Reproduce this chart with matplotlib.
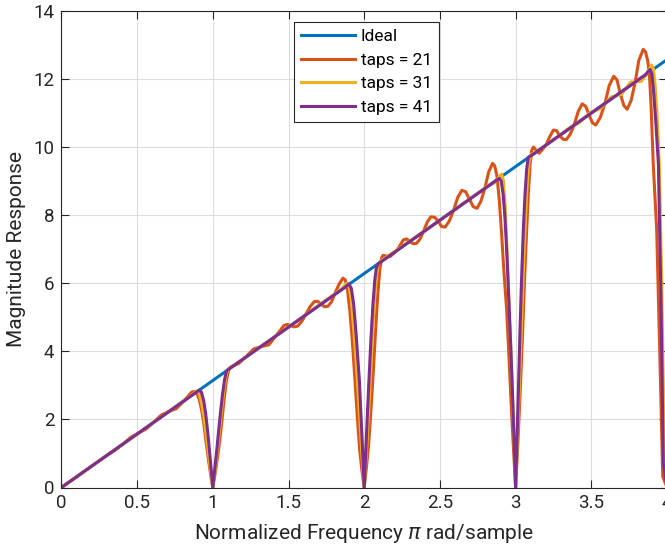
import matplotlib
matplotlib.use("Agg")
import matplotlib.pyplot as plt

# ---------------- data ----------------
IDEAL_X = [0.0, 4.0]
IDEAL_Y = [0.0, 12.57]

TAPS21_X = [0.00, 0.10, 0.20, 0.30, 0.36, 0.41, 0.46, 0.51, 0.56, 0.61, 0.66, 0.71, 0.76, 0.81, 0.86, 0.875,
            0.895, 0.91, 0.925, 0.94, 0.955, 0.97, 0.985, 1.00, 1.015, 1.03, 1.045, 1.06, 1.075, 1.09, 1.105, 1.12,
            1.14, 1.17, 1.22, 1.27, 1.32, 1.37, 1.42, 1.47, 1.4925, 1.515, 1.5375, 1.56, 1.5875, 1.615, 1.6425,
            1.67, 1.6925, 1.715, 1.7375, 1.76, 1.785, 1.81, 1.835, 1.86,
            1.875, 1.89, 1.905, 1.92, 1.939, 1.955, 1.97, 1.985, 2.00, 2.015, 2.03, 2.045, 2.06, 2.075, 2.09,
            2.103, 2.115, 2.125,
            2.17, 2.215, 2.26, 2.281, 2.30, 2.324, 2.345, 2.369, 2.39, 2.416, 2.44, 2.465, 2.49, 2.51, 2.535,
            2.5625, 2.59, 2.6175, 2.645, 2.67, 2.695, 2.72, 2.745, 2.771, 2.797, 2.822, 2.848,
            2.862, 2.877, 2.892, 2.907, 2.922, 2.941, 2.955, 2.968, 2.984, 3.00, 3.015, 3.03, 3.047, 3.06,
            3.073, 3.085, 3.096, 3.106, 3.118, 3.137, 3.156,
            3.20, 3.225, 3.25, 3.271, 3.29, 3.314, 3.335, 3.361, 3.385, 3.414, 3.44, 3.4625, 3.485, 3.5075,
            3.53, 3.5595, 3.59, 3.6185, 3.648, 3.670, 3.69, 3.715, 3.737, 3.763, 3.79, 3.814, 3.843,
            3.858, 3.872, 3.883, 3.895, 3.909, 3.932, 3.954, 3.972, 4.00]
TAPS21_Y = [0.00, 0.31, 0.63, 0.94, 1.11, 1.29, 1.48, 1.60, 1.72, 1.92, 2.13, 2.23, 2.32, 2.55, 2.80, 2.82,
            2.76, 2.60, 2.30, 1.90, 1.35, 0.85, 0.40, 0.00, 0.40, 0.85, 1.35, 1.95, 2.60, 3.15, 3.45, 3.55,
            3.58, 3.64, 3.85, 4.07, 4.14, 4.19, 4.47, 4.76, 4.79, 4.75, 4.72, 4.74, 4.88, 5.09, 5.31,
            5.46, 5.47, 5.39, 5.31, 5.32, 5.46, 5.74, 5.98, 6.15,
            6.10, 5.80, 5.20, 4.40, 3.16, 2.05, 1.10, 0.50, 0.00, 0.60, 1.30, 2.30, 3.40, 4.60, 5.70,
            6.40, 6.75, 6.82,
            6.78, 6.96, 7.28, 7.30, 7.23, 7.16, 7.17, 7.30, 7.51, 7.79, 7.95, 7.94, 7.82, 7.67, 7.65,
            7.83, 8.14, 8.52, 8.73, 8.69, 8.47, 8.25, 8.20, 8.41, 8.79, 9.27, 9.52,
            9.45, 9.15, 8.45, 7.50, 6.40, 5.21, 3.95, 2.70, 1.30, 0.00, 1.30, 2.80, 4.63, 6.20,
            7.56, 8.70, 9.50, 9.90, 10.00, 9.90, 9.82,
            10.05, 10.30, 10.50, 10.48, 10.34, 10.23, 10.22, 10.38, 10.63, 11.05, 11.27, 11.20, 10.95, 10.71,
            10.65, 10.87, 11.28, 11.81, 12.08, 11.97, 11.59, 11.22, 11.11, 11.37, 11.91, 12.55, 12.87,
            12.80, 12.55, 12.20, 11.20, 9.52, 7.56, 3.66, 0.32, 0.00]

TAPS31_X = [0.00, 0.50, 0.85, 0.895, 0.91, 0.925, 0.94, 0.955, 0.97, 0.985, 1.00, 1.015, 1.03, 1.045, 1.06,
            1.075, 1.09, 1.105, 1.12, 1.50, 1.85, 1.884, 1.90, 1.915, 1.93, 1.945, 1.955, 1.968, 1.984, 2.00,
            2.014, 2.028, 2.04, 2.053, 2.066, 2.08, 2.093, 2.105, 2.50, 2.82, 2.86, 2.908, 2.92, 2.932, 2.945,
            2.958, 2.97, 2.98, 2.99, 3.00, 3.012, 3.025, 3.038, 3.05, 3.062, 3.075, 3.088, 3.10, 3.112,
            3.20, 3.30, 3.36, 3.42, 3.49, 3.56, 3.63, 3.70, 3.76, 3.83, 3.865, 3.899,
            3.91, 3.922, 3.935, 3.95, 3.965, 3.98, 4.00]
TAPS31_Y = [0.00, 1.57, 2.68, 2.84, 2.76, 2.50, 2.10, 1.60, 1.05, 0.50, 0.00, 0.50, 1.10, 1.70, 2.35,
            2.95, 3.35, 3.50, 3.53, 4.71, 5.83, 6.00, 5.90, 5.50, 4.70, 3.80, 3.16, 2.20, 1.05, 0.00,
            1.00, 2.10, 3.10, 4.30, 5.40, 6.20, 6.55, 6.64, 7.85, 8.87, 8.95, 9.21, 9.00, 8.20, 6.80,
            5.30, 3.90, 2.70, 1.40, 0.00, 1.40, 3.00, 4.63, 6.20, 7.56, 8.80, 9.55, 9.78, 9.80,
            10.05, 10.37, 10.58, 10.71, 11.01, 11.13, 11.47, 11.55, 11.91, 11.93, 12.14, 12.41,
            12.30, 11.80, 10.90, 9.40, 6.00, 1.80, 0.00]

TAPS41_X = [0.00, 0.50, 0.91, 0.925, 0.94, 0.953, 0.967, 0.98, 0.99, 1.00, 1.012, 1.024, 1.037, 1.05, 1.063,
            1.077, 1.09, 1.10, 1.50, 1.87, 1.899, 1.915, 1.93, 1.945, 1.957, 1.968, 1.978, 1.989, 2.00,
            2.011, 2.022, 2.033, 2.045, 2.058, 2.07, 2.08, 2.092, 2.50, 2.86, 2.892, 2.905, 2.918, 2.93,
            2.944, 2.958, 2.97, 2.98, 2.99, 3.00, 3.01, 3.02, 3.029, 3.04, 3.051, 3.062, 3.073, 3.084, 3.10,
            3.50, 3.86, 3.875, 3.888, 3.90, 3.912, 3.925, 3.943, 3.96, 3.976, 4.00]
TAPS41_Y = [0.00, 1.57, 2.86, 2.80, 2.55, 2.17, 1.60, 1.00, 0.50, 0.00, 0.50, 1.00, 1.60, 2.17, 2.70,
            3.15, 3.42, 3.46, 4.71, 5.87, 5.98, 5.85, 5.40, 4.60, 3.85, 3.16, 2.20, 1.15, 0.00,
            1.10, 2.25, 3.30, 4.40, 5.40, 6.10, 6.45, 6.57, 7.85, 8.98, 9.08, 9.00, 8.60, 7.90,
            6.70, 5.21, 3.90, 2.70, 1.40, 0.00, 1.50, 3.10, 4.63, 6.20, 7.56, 8.60, 9.35, 9.70, 9.74,
            11.00, 12.13, 12.22, 12.28, 12.15, 11.60, 10.80, 9.52, 5.60, 0.70, 0.00]

SERIES_LABELS = ["Ideal", "taps = 21", "taps = 31", "taps = 41"]
X_TICKS = [0, 0.5, 1, 1.5, 2, 2.5, 3, 3.5, 4]
X_TICK_LABELS = ["0", "0.5", "1", "1.5", "2", "2.5", "3", "3.5", "4"]
Y_TICKS = [0, 2, 4, 6, 8, 10, 12, 14]
Y_TICK_LABELS = ["0", "2", "4", "6", "8", "10", "12", "14"]

# ---------------- style ----------------
plt.rcParams["font.family"] = ["Roboto", "DejaVu Sans"]
plt.rcParams["mathtext.fontset"] = "dejavusans"
COLORS = ["#0072BD", "#D95319", "#EDB120", "#7E2F8E"]
AX_COLOR = "#262626"

fig = plt.figure(figsize=(6.65, 5.5), dpi=100)
W, H = 665.0, 550.0
left_px, right_px, top_px, bottom_px = 61.4, 667.0, 10.9, 487.5
ax = fig.add_axes([left_px / W, 1 - bottom_px / H, (right_px - left_px) / W, (bottom_px - top_px) / H])

lw = 2.2
ax.plot(IDEAL_X, IDEAL_Y, color=COLORS[0], lw=lw, label=SERIES_LABELS[0], solid_joinstyle="round")
ax.plot(TAPS21_X, TAPS21_Y, color=COLORS[1], lw=lw, label=SERIES_LABELS[1], solid_joinstyle="round")
ax.plot(TAPS31_X, TAPS31_Y, color=COLORS[2], lw=lw, label=SERIES_LABELS[2], solid_joinstyle="round")
ax.plot(TAPS41_X, TAPS41_Y, color=COLORS[3], lw=lw, label=SERIES_LABELS[3], solid_joinstyle="round")

ax.set_xlim(0, 4)
ax.set_ylim(0, 14)
ax.set_xticks(X_TICKS)
ax.set_xticklabels(X_TICK_LABELS)
ax.set_yticks(Y_TICKS)
ax.set_yticklabels(Y_TICK_LABELS)

ax.grid(True, color="#DCDCDC", lw=0.8)
ax.set_axisbelow(True)
for s in ax.spines.values():
    s.set_color(AX_COLOR)
    s.set_linewidth(0.8)
ax.tick_params(direction="in", length=6, width=0.8, colors=AX_COLOR, labelsize=13.5,
               top=True, right=True, pad=5)

ax.set_xlabel(r"Normalized Frequency $\pi$ rad/sample", fontsize=15, color=AX_COLOR, labelpad=7)
ax.set_ylabel("Magnitude Response", fontsize=15, color=AX_COLOR, labelpad=5)

leg = ax.legend(loc="upper left", bbox_to_anchor=((294 - left_px) / (right_px - left_px),
                                                  (bottom_px - 21.7) / (bottom_px - top_px)),
                fontsize=12.5, frameon=True, fancybox=False, shadow=False,
                handlelength=3.1, handletextpad=0.35, borderpad=0.4, labelspacing=0.5,
                borderaxespad=0.0)
leg.get_frame().set_edgecolor(AX_COLOR)
leg.get_frame().set_linewidth(0.8)
leg.get_frame().set_alpha(1.0)

fig.savefig("out.png", dpi=100)
